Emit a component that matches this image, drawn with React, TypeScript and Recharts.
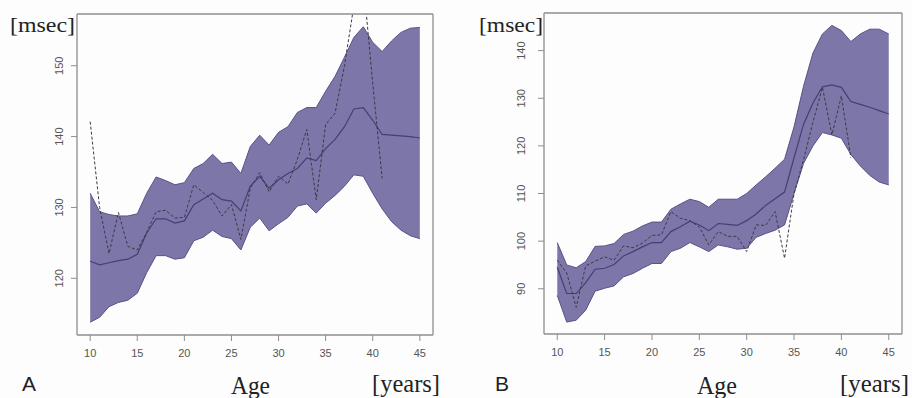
import React from 'react';
import { ComposedChart, Area, Line, XAxis, YAxis } from 'recharts';

const ages = [10, 11, 12, 13, 14, 15, 16, 17, 18, 19, 20, 21, 22, 23, 24, 25, 26, 27, 28, 29, 30, 31, 32, 33, 34, 35, 36, 37, 38, 39, 40, 41, 42, 43, 44, 45];
const xTicks = [10, 15, 20, 25, 30, 35, 40, 45];

// Panel A
const aLower = [113.8, 114.5, 116.0, 116.6, 116.9, 117.9, 120.8, 123.2, 123.2, 122.7, 122.9, 125.3, 125.8, 126.8, 125.9, 125.6, 124.0, 127.2, 128.5, 126.7, 127.7, 128.6, 130.2, 130.5, 129.2, 130.6, 131.7, 133.0, 134.6, 134.4, 132.0, 129.8, 128.0, 126.8, 126.0, 125.6];
const aUpper = [132.0, 129.4, 129.0, 128.8, 128.8, 129.1, 132.0, 134.3, 133.8, 133.2, 133.5, 135.5, 136.2, 137.5, 136.2, 136.4, 134.8, 138.6, 140.2, 138.8, 140.6, 141.4, 143.4, 144.1, 144.1, 146.4, 148.5, 151.2, 154.0, 155.5, 153.3, 152.0, 153.5, 154.7, 155.3, 155.4];
const aMean = [122.4, 121.9, 122.2, 122.5, 122.7, 123.4, 126.4, 128.4, 128.4, 127.8, 128.1, 130.4, 131.2, 132.0, 131.1, 130.9, 129.5, 133.0, 134.4, 132.7, 133.9, 134.8, 135.5, 137.0, 136.6, 138.3, 139.6, 141.4, 143.9, 144.1, 142.3, 140.3, 140.2, 140.1, 140.0, 139.8];
const aObs = [142.1, 130.0, 123.5, 129.3, 124.5, 124.0, 126.5, 129.4, 129.6, 128.5, 128.6, 133.2, 132.1, 131.0, 128.8, 130.4, 125.5, 132.7, 134.9, 132.2, 134.4, 133.3, 136.8, 141.0, 131.1, 141.7, 143.3, 150.0, 158.5, 162.0, 147.5, 134.1];
const aYTicks = [120, 130, 140, 150];

// Panel B
const bLower = [88.6, 83.0, 83.4, 85.5, 89.5, 90.1, 90.6, 92.5, 93.2, 94.3, 95.3, 95.3, 97.8, 98.5, 99.7, 98.8, 97.8, 99.2, 98.8, 98.3, 98.5, 100.8, 101.6, 102.3, 103.4, 110.0, 116.3, 120.0, 122.8, 122.3, 121.6, 118.2, 115.8, 113.8, 112.4, 111.8];
const bUpper = [99.7, 95.0, 94.4, 95.7, 98.9, 99.0, 99.5, 101.4, 102.1, 103.2, 104.0, 104.0, 106.7, 107.8, 108.8, 108.3, 107.1, 108.8, 108.8, 108.8, 110.0, 111.8, 113.5, 115.3, 117.2, 124.0, 132.5, 139.5, 143.5, 145.3, 144.2, 141.9, 143.5, 144.5, 144.5, 143.5];
const bMean = [94.5, 89.0, 89.0, 91.3, 94.1, 94.3, 95.1, 96.9, 97.8, 98.8, 99.7, 99.7, 102.0, 103.0, 104.2, 103.4, 102.2, 103.7, 103.5, 103.3, 104.3, 105.7, 107.5, 108.9, 110.3, 117.5, 124.5, 129.0, 132.4, 132.8, 132.3, 129.3, 128.7, 128.1, 127.4, 126.7];
const bObs = [96.0, 93.3, 86.1, 94.8, 95.8, 96.7, 96.0, 99.0, 98.6, 99.6, 101.2, 101.3, 106.2, 104.8, 104.3, 103.0, 99.2, 102.0, 101.0, 101.0, 97.8, 103.4, 103.3, 106.2, 96.4, 110.0, 117.0, 125.0, 132.3, 122.3, 130.5, 117.5];
const bYTicks = [90, 100, 110, 120, 130, 140];

const panelLabels = ['A', 'B'];
const yUnit = '[msec]';
const xTitle = 'Age';
const xUnit = '[years]';

type Row = { age: number; band: [number, number]; mean: number; obs: number | null };

function buildRows(lo: number[], hi: number[], mean: number[], obs: number[]): Row[] {
  return ages.map((a, i) => ({
    age: a,
    band: [lo[i], hi[i]] as [number, number],
    mean: mean[i],
    obs: i < obs.length ? obs[i] : null,
  }));
}

const rowsA = buildRows(aLower, aUpper, aMean, aObs);
const rowsB = buildRows(bLower, bUpper, bMean, bObs);

const SANS = 'Liberation Sans, Arial, sans-serif';
const SERIF = 'Liberation Serif, serif';
const BOX = '#8e8e8e';
const FILL = '#7d76a8';
const EDGE = '#5a5186';
const MEAN = '#483d75';
const OBS = '#3a3a44';

const RotTick = (props: any) => {
  const { x, y, payload, off } = props;
  return (
    <text
      transform={`translate(${x + off},${y}) rotate(-90)`}
      textAnchor="middle"
      fontSize={11}
      fill="#555"
      fontFamily={SANS}
    >
      {payload.value}
    </text>
  );
};

type PanelProps = {
  rows: Row[];
  left: number;
  margin: { top: number; right: number; bottom: number; left: number };
  xDomain: [number, number];
  yDomain: [number, number];
  yTicks: number[];
  tickOff: number;
};

function Panel({ rows, left, margin, xDomain, yDomain, yTicks, tickOff }: PanelProps) {
  return (
    <div style={{ position: 'absolute', left, top: 0 }}>
      <ComposedChart width={456} height={398} data={rows} margin={margin}>
        <XAxis
          dataKey="age"
          type="number"
          domain={xDomain}
          ticks={xTicks}
          allowDataOverflow
          height={30}
          tickSize={6}
          tickMargin={8}
          axisLine={{ stroke: BOX, strokeWidth: 1.3 }}
          tickLine={{ stroke: BOX }}
          tick={{ fontSize: 11, fill: '#555', fontFamily: SANS }}
        />
        <XAxis
          xAxisId="top"
          orientation="top"
          dataKey="age"
          type="number"
          domain={xDomain}
          allowDataOverflow
          height={1}
          tick={false}
          tickLine={false}
          axisLine={{ stroke: BOX, strokeWidth: 1.3 }}
        />
        <YAxis
          type="number"
          domain={yDomain}
          ticks={yTicks}
          allowDataOverflow
          width={40}
          tickSize={6}
          tickMargin={2}
          axisLine={{ stroke: BOX, strokeWidth: 1.3 }}
          tickLine={{ stroke: BOX }}
          tick={(p: any) => <RotTick {...p} off={tickOff} />}
        />
        <YAxis
          yAxisId="right"
          orientation="right"
          type="number"
          domain={yDomain}
          allowDataOverflow
          width={1}
          tick={false}
          tickLine={false}
          axisLine={{ stroke: BOX, strokeWidth: 1.3 }}
        />
        <Area
          type="linear"
          dataKey="band"
          fill={FILL}
          fillOpacity={1}
          stroke={EDGE}
          strokeWidth={1}
          isAnimationActive={false}
          dot={false}
          activeDot={false}
        />
        <Line
          type="linear"
          dataKey="mean"
          stroke={MEAN}
          strokeWidth={1.2}
          dot={false}
          activeDot={false}
          isAnimationActive={false}
        />
        <Line
          type="linear"
          dataKey="obs"
          stroke={OBS}
          strokeWidth={1}
          strokeDasharray="3 2"
          dot={false}
          activeDot={false}
          isAnimationActive={false}
        />
      </ComposedChart>
    </div>
  );
}

export default function App() {
  return (
    <div style={{ position: 'absolute', left: 0, top: 0, width: 912, height: 398, background: '#fdfdfd', overflow: 'hidden' }}>
      <Panel
        rows={rowsA}
        left={0}
        margin={{ top: 13, right: 22, bottom: 33, left: 37 }}
        xDomain={[8.6, 46.4]}
        yDomain={[112.0, 157.3]}
        yTicks={aYTicks}
        tickOff={-6.5}
      />
      <Panel
        rows={rowsB}
        left={456}
        margin={{ top: 12, right: 9, bottom: 34, left: 48 }}
        xDomain={[8.6, 46.4]}
        yDomain={[80.5, 147.9]}
        yTicks={bYTicks}
        tickOff={-11}
      />
      <svg width={912} height={398} style={{ position: 'absolute', left: 0, top: 0, pointerEvents: 'none' }}>
        <text x={10} y={32} fontFamily={SERIF} fontSize={21} fill="#222" textLength={65} lengthAdjust="spacingAndGlyphs">{yUnit}</text>
        <text x={479} y={32} fontFamily={SERIF} fontSize={21} fill="#222" textLength={64} lengthAdjust="spacingAndGlyphs">{yUnit}</text>
        <text x={22} y={391} fontFamily={SANS} fontSize={21} fill="#222">{panelLabels[0]}</text>
        <text x={495} y={391} fontFamily={SANS} fontSize={21} fill="#222">{panelLabels[1]}</text>
        <text x={231} y={394} fontFamily={SERIF} fontSize={25} fill="#222" textLength={39} lengthAdjust="spacingAndGlyphs">{xTitle}</text>
        <text x={697} y={394} fontFamily={SERIF} fontSize={25} fill="#222" textLength={40} lengthAdjust="spacingAndGlyphs">{xTitle}</text>
        <text x={372} y={392} fontFamily={SERIF} fontSize={25} fill="#222" textLength={68} lengthAdjust="spacingAndGlyphs">{xUnit}</text>
        <text x={840} y={392} fontFamily={SERIF} fontSize={25} fill="#222" textLength={69} lengthAdjust="spacingAndGlyphs">{xUnit}</text>
      </svg>
    </div>
  );
}
